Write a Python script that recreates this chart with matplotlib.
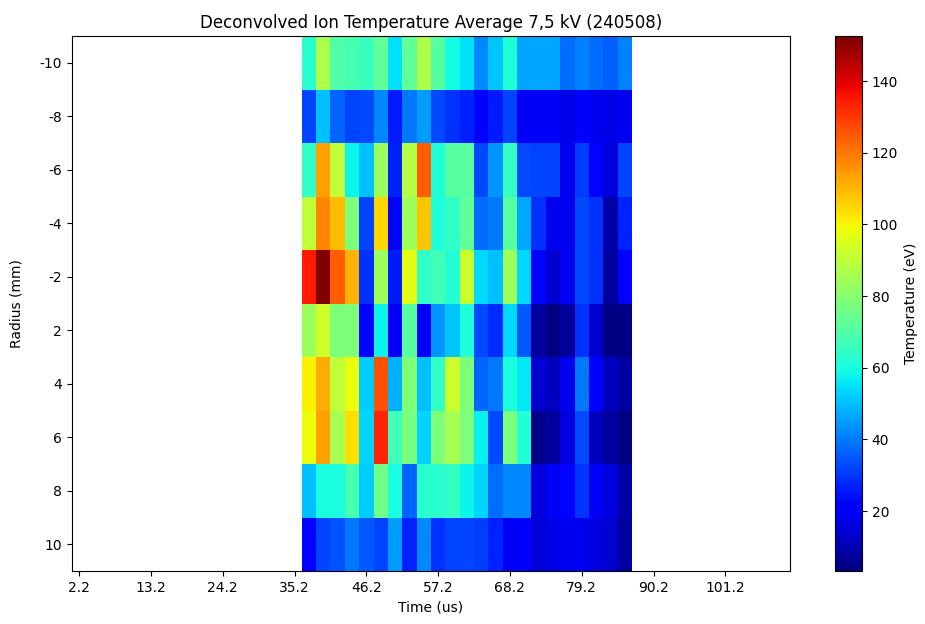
import numpy as np
import matplotlib
matplotlib.use("Agg")
import matplotlib.pyplot as plt

# time bin centres (us) of the measured columns
time_us = [37.4, 39.6, 41.8, 44.0, 46.2, 48.4, 50.6, 52.8, 55.0, 57.2, 59.4, 61.6,
           63.8, 66.0, 68.2, 70.4, 72.6, 74.8, 77.0, 79.2, 81.4, 83.6, 85.8]
bin_width = 2.2
radius_labels = ["-10", "-8", "-6", "-4", "-2", "2", "4", "6", "8", "10"]

temp = np.array([
    # -10
    [63, 87, 70, 68, 66, 73, 55, 73, 87, 71, 59, 55, 42, 51, 61, 46, 46, 46, 38, 41, 38, 36, 41],
    # -8
    [32, 50, 37, 32, 33, 42, 26, 40, 45, 33, 29, 27, 20, 26, 32, 19, 19, 19, 17, 20, 18, 17, 18],
    # -6
    [64, 114, 90, 58, 50, 84, 27, 88, 124, 61, 71, 71, 33, 44, 65, 33, 32, 32, 18, 31, 22, 16, 32],
    # -4
    [90, 118, 109, 78, 32, 105, 22, 84, 108, 61, 64, 73, 38, 40, 71, 47, 29, 18, 18, 33, 29, 9, 27],
    # -2
    [135, 152, 124, 111, 29, 84, 26, 97, 64, 67, 62, 92, 54, 50, 84, 54, 22, 14, 18, 33, 29, 7.5, 20],
    # 2
    [84, 93, 78, 78, 22, 58, 19, 71, 19, 44, 51, 61, 33, 28, 54, 35, 7.5, 3.5, 7, 29, 14, 4, 4],
    # 4
    [101, 112, 90, 98, 52, 126, 48, 78, 50, 64, 92, 78, 37, 40, 60, 56, 14, 12, 18, 40, 20, 12, 8],
    # 6
    [98, 114, 86, 104, 53, 133, 67, 77, 53, 78, 86, 78, 57, 33, 78, 62, 5, 7.5, 16, 33, 12, 7.5, 3.5],
    # 8
    [50, 60, 60, 68, 52, 76, 60, 37, 63, 63, 65, 58, 53, 38, 42, 42, 15, 19, 22, 30, 19, 16, 9],
    # 10
    [22, 32, 34, 40, 35, 32, 45, 27, 42, 29, 32, 32, 31, 27, 19, 21, 15, 17, 18, 18, 16, 14, 7.5],
])

xtick_vals = [2.2, 13.2, 24.2, 35.2, 46.2, 57.2, 68.2, 79.2, 90.2, 101.2]
x_limits = (1.1, 111.1)
vmin, vmax = 3.3, 152.5

fig = plt.figure(figsize=(9.25, 6.24), dpi=100)
ax = fig.add_axes([0.0778, 0.0849, 0.7762, 0.857])
cax = fig.add_axes([0.9027, 0.0849, 0.0292, 0.857])

centers = np.array(time_us)
x_edges = np.concatenate([centers - bin_width / 2, [centers[-1] + bin_width / 2]])
y_edges = np.arange(len(radius_labels) + 1) - 0.5

mesh = ax.pcolormesh(x_edges, y_edges, temp, cmap="jet", vmin=vmin, vmax=vmax,
                     shading="flat")
ax.set_xlim(*x_limits)
ax.set_ylim(len(radius_labels) - 0.5, -0.5)
ax.set_yticks(np.arange(len(radius_labels)))
ax.set_yticklabels(radius_labels)
ax.set_xticks(xtick_vals)
ax.set_xticklabels([f"{v:.1f}" for v in xtick_vals])
ax.set_xlabel("Time (us)")
ax.set_ylabel("Radius (mm)", labelpad=12)
ax.set_title("Deconvolved Ion Temperature Average 7,5 kV (240508)")

cb = fig.colorbar(mesh, cax=cax)
cb.set_label("Temperature (eV)")
cb.set_ticks([20, 40, 60, 80, 100, 120, 140])

fig.savefig("out.png", dpi=100)
